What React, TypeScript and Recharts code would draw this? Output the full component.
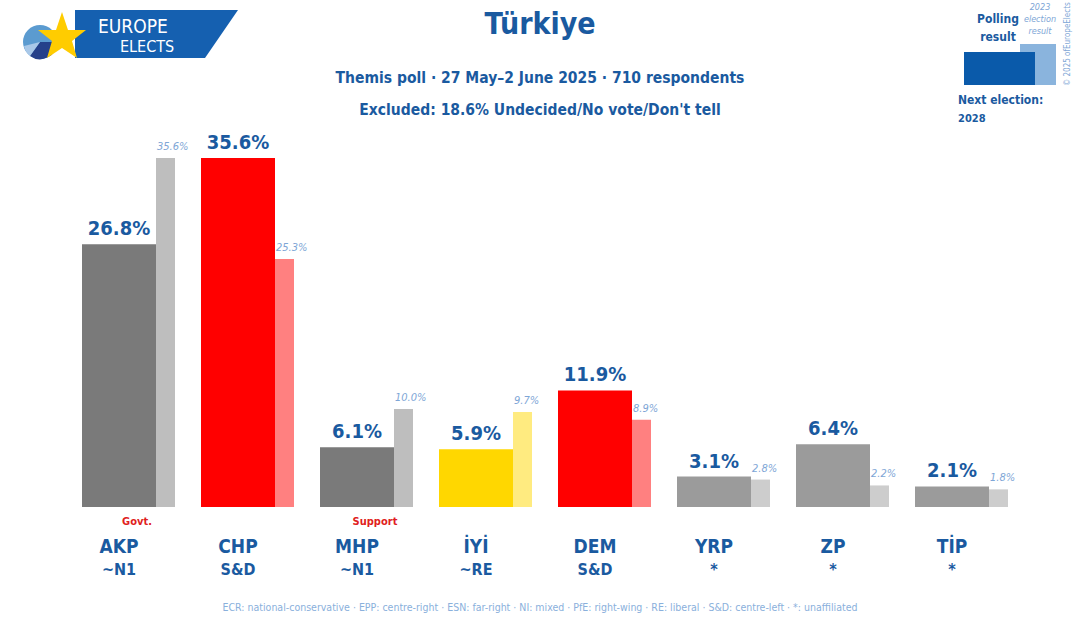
import { Bar, BarChart, Cell, LabelList, XAxis, YAxis } from 'recharts';

const parties = ['AKP', 'CHP', 'MHP', 'İYİ', 'DEM', 'YRP', 'ZP', 'TİP'];
const groups = ['~N1', 'S&D', '~N1', '~RE', 'S&D', '*', '*', '*'];
const roles = ['Govt.', '', 'Support', '', '', '', '', ''];
const poll = [26.8, 35.6, 6.1, 5.9, 11.9, 3.1, 6.4, 2.1];
const election = [35.6, 25.3, 10.0, 9.7, 8.9, 2.8, 2.2, 1.8];
const pollColors = ['#7a7a7a', '#ff0000', '#7a7a7a', '#ffd700', '#ff0000', '#9b9b9b', '#9b9b9b', '#9b9b9b'];
const electionColors = ['#bebebe', '#ff8080', '#bebebe', '#ffeb80', '#ff8080', '#cdcdcd', '#cdcdcd', '#cdcdcd'];

const BLUE = '#1a5aa0';
const LIGHT = '#7ea6d6';
const FONT = '"DejaVu Sans Condensed", "Noto Sans", sans-serif';

const data = parties.map((p, i) => ({ party: p, group: groups[i], role: roles[i], poll: poll[i], election: election[i] }));

// main bar is 74px, election bar 19px; tick x is band centre, main bar centre sits 9.5px left
function PartyTick({ x, y, payload, index }: any) {
  const cx = x - 9.5;
  const d = data[index];
  return (
    <g fontFamily={FONT}>
      {d.role ? (
        <text x={cx + 18} y={y + 10} textAnchor="middle" fill="#e02020" fontSize={11} fontWeight={700}>
          {d.role}
        </text>
      ) : null}
      <text x={cx} y={y + 38} textAnchor="middle" fill={BLUE} fontSize={19} fontWeight={700}>
        {payload.value}
      </text>
      <text x={cx} y={y + 60} textAnchor="middle" fill={BLUE} fontSize={16} fontWeight={700}>
        {d.group}
      </text>
    </g>
  );
}

const pct = (v: any) => `${Number(v).toFixed(1)}%`;

function PollLabel({ x, y, width, value }: any) {
  return (
    <text x={x + width / 2} y={y - 9} textAnchor="middle" fill={BLUE} fontSize={20} fontWeight={700} fontFamily={FONT}>
      {pct(value)}
    </text>
  );
}

function ElectionLabel({ x, y, value }: any) {
  return (
    <text x={x + 1} y={y - 8} textAnchor="start" fill={LIGHT} fontSize={11} fontStyle="italic" fontFamily={FONT}>
      {pct(value)}
    </text>
  );
}

function Logo() {
  return (
    <svg width={250} height={70} style={{ position: 'absolute', left: 0, top: 0 }}>
      <polygon points="75,10 238,10 205,58 75,58" fill="#1560b0" />
      <circle cx={40} cy={42} r={17} fill="#5b9bd0" />
      <path d="M40,42 L57,42 A17,17 0 0,1 30,56 Z" fill="#25408a" />
      <path d="M40,42 L30,56 A17,17 0 0,1 24,46 Z" fill="#a9c8e8" />
      <polygon
        points="62,12 68,30 86,30 72,41 77,58 62,48 47,58 52,41 38,30 56,30"
        fill="#ffcc00"
      />
      <text x={98} y={33} fill="#fff" fontSize={19} fontFamily={FONT}>EUROPE</text>
      <text x={120} y={52} fill="#fff" fontSize={16} fontFamily={FONT}>ELECTS</text>
    </svg>
  );
}

function Legend() {
  return (
    <svg width={140} height={130} style={{ position: 'absolute', left: 940, top: 0 }}>
      <rect x={80} y={44} width={36} height={41} fill="#8ab4dd" />
      <rect x={24} y={52} width={71} height={33} fill="#0a5aaa" />
      <text x={58} y={23} textAnchor="middle" fill={BLUE} fontSize={12} fontWeight={700} fontFamily={FONT}>Polling</text>
      <text x={58} y={41} textAnchor="middle" fill={BLUE} fontSize={12} fontWeight={700} fontFamily={FONT}>result</text>
      <text x={100} y={10} textAnchor="middle" fill={LIGHT} fontSize={9} fontStyle="italic" fontFamily={FONT}>2023</text>
      <text x={100} y={22} textAnchor="middle" fill={LIGHT} fontSize={9} fontStyle="italic" fontFamily={FONT}>election</text>
      <text x={100} y={34} textAnchor="middle" fill={LIGHT} fontSize={9} fontStyle="italic" fontFamily={FONT}>result</text>
      <text x={0} y={0} transform="translate(130,86) rotate(-90)" fill={LIGHT} fontSize={8} fontFamily={FONT}>© 2025 ofEuropeElects</text>
      <text x={18} y={104} fill={BLUE} fontSize={12} fontWeight={700} fontFamily={FONT}>Next election:</text>
      <text x={18} y={122} fill={BLUE} fontSize={11} fontWeight={700} fontFamily={FONT}>2028</text>
    </svg>
  );
}

export default function App() {
  return (
    <div style={{ position: 'absolute', left: 0, top: 0, width: 1080, height: 634, background: '#fff', fontFamily: FONT }}>
      <Logo />
      <Legend />
      <div style={{ position: 'absolute', top: 6, width: 1080, textAlign: 'center', color: BLUE, fontSize: 30, fontWeight: 700 }}>
        Türkiye
      </div>
      <div style={{ position: 'absolute', top: 69, width: 1080, textAlign: 'center', color: BLUE, fontSize: 15.5, fontWeight: 700 }}>
        Themis poll · 27 May–2 June 2025 · 710 respondents
      </div>
      <div style={{ position: 'absolute', top: 101, width: 1080, textAlign: 'center', color: BLUE, fontSize: 15.5, fontWeight: 700 }}>
        Excluded: 18.6% Undecided/No vote/Don't tell
      </div>
      <BarChart
        width={1080}
        height={634}
        data={data}
        margin={{ top: 115, right: 59, bottom: 57, left: 69 }}
        barGap={0}
        barCategoryGap={0}
      >
        <XAxis dataKey="party" axisLine={false} tickLine={false} height={70} interval={0} tick={<PartyTick />} />
        <YAxis hide domain={[0, 40]} />
        <Bar dataKey="poll" barSize={74} isAnimationActive={false}>
          {data.map((_, i) => (
            <Cell key={i} fill={pollColors[i]} />
          ))}
          <LabelList dataKey="poll" content={<PollLabel />} />
        </Bar>
        <Bar dataKey="election" barSize={19} isAnimationActive={false}>
          {data.map((_, i) => (
            <Cell key={i} fill={electionColors[i]} />
          ))}
          <LabelList dataKey="election" content={<ElectionLabel />} />
        </Bar>
      </BarChart>
      <div style={{ position: 'absolute', top: 601, width: 1080, textAlign: 'center', color: '#8ab0dc', fontSize: 10.5 }}>
        ECR: national-conservative · EPP: centre-right · ESN: far-right · NI: mixed · PfE: right-wing · RE: liberal · S&D: centre-left · *: unaffiliated
      </div>
    </div>
  );
}
